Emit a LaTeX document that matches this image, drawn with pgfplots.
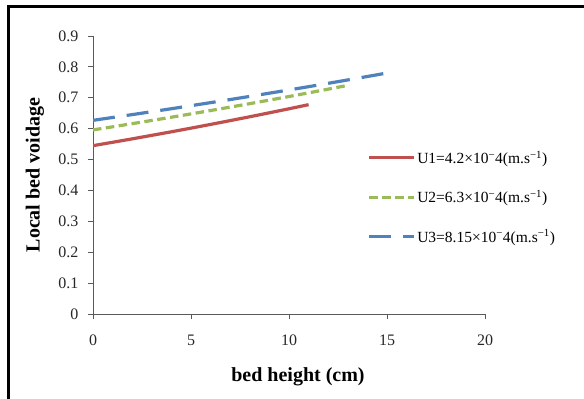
\documentclass[border=0pt]{standalone}
\usepackage{pgfplots}
\pgfplotsset{compat=1.18}
\usepackage{fontspec}
\setmainfont{Liberation Serif}
\definecolor{cRed}{HTML}{C0504D}
\definecolor{cGreen}{HTML}{9BBB59}
\definecolor{cBlue}{HTML}{4F81BD}
\begin{document}
\begin{tikzpicture}[x=1pt,y=1pt]
\path[use as bounding box] (0,0) rectangle (584,399);
\begin{scope}
\clip (0,0) rectangle (584,399);
\draw[line width=3pt, line cap=rect] (8,-5) -- (8,392.5) -- (590,392.5);
\end{scope}
\begin{axis}[
  at={(93pt,85pt)}, anchor=south west,
  scale only axis, width=392pt, height=278pt,
  xmin=0, xmax=20, ymin=0, ymax=0.9,
  xtick={0,5,10,15,20},
  ytick={0,0.1,0.2,0.3,0.4,0.5,0.6,0.7,0.8,0.9},
  yticklabel style={/pgf/number format/fixed, /pgf/number format/precision=1},
  /pgf/number format/assume math mode=true,
  axis lines=left,
  axis line style={-, black!65, line width=0.9pt},
  tick style={black!65, line width=0.9pt},
  tick align=outside, major tick length=5pt,
  ticklabel style={font=\fontsize{16}{19}\selectfont, text=black!85},
  xticklabel style={yshift=-12pt},
  yticklabel style={xshift=-6pt},
  xlabel={\textbf{bed height (cm)}},
  ylabel={\textbf{Local bed voidage}},
  label style={font=\fontsize{20}{23}\selectfont},
  xlabel style={at={(axis description cs:0.523,-0.225)}, anchor=center},
  ylabel style={at={(axis description cs:-0.148,0.5)}, anchor=center, rotate=0},
  legend image code/.code={\draw[#1] (0pt,0pt) -- (45pt,0pt);},
  legend style={at={(axis description cs:0.70,0.42)}, anchor=west, draw=none, fill=none,
    font=\fontsize{15.5}{18}\selectfont, row sep=22.5pt, inner sep=0pt,
    nodes={inner sep=1.5pt}},
  legend cell align=left,
]
\addplot[cRed, line width=3.2pt] coordinates {
(0,0.545) (1,0.5559) (2,0.5670) (3,0.5784) (4,0.5899) (5,0.6017) (6,0.6138)
(7,0.6261) (8,0.6386) (9,0.6514) (10,0.6644) (11,0.6777)};
\addlegendentry{U1=4.2×10\textsuperscript{−}4(m.s\textsuperscript{−1})}
\addplot[cGreen, line width=3.2pt, dash pattern=on 8.5pt off 4.5pt] coordinates {
(0,0.596) (1,0.6060) (2,0.6162) (3,0.6266) (4,0.6371) (5,0.6478) (6,0.6587)
(7,0.6698) (8,0.6810) (9,0.6925) (10,0.7041) (11,0.7159) (12,0.7280) (13,0.7402)};
\addlegendentry{U2=6.3×10\textsuperscript{−}4(m.s\textsuperscript{−1})}
\addplot[cBlue, line width=3.2pt, dash pattern=on 22pt off 12pt] coordinates {
(0,0.627) (1,0.6362) (2,0.6455) (3,0.6550) (4,0.6646) (5,0.6744) (6,0.6843)
(7,0.6943) (8,0.7045) (9,0.7149) (10,0.7254) (11,0.7360) (12,0.7468) (13,0.7578)
(14,0.7689) (15,0.7802)};
\addlegendentry{U3=8.15×10\textsuperscript{−}4(m.s\textsuperscript{−1})}
\end{axis}
\end{tikzpicture}
\end{document}
